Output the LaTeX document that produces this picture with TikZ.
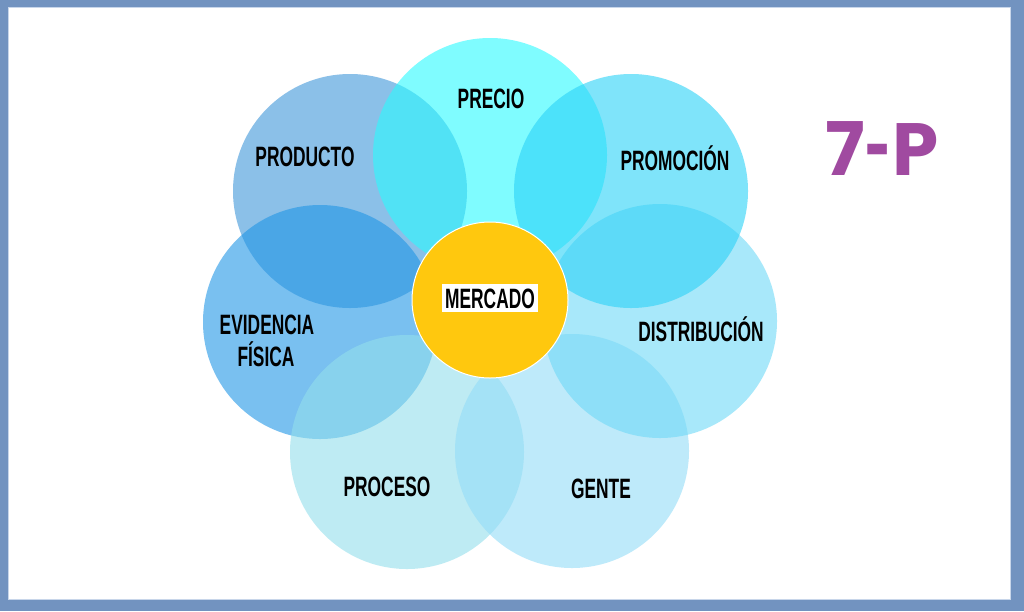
\documentclass[tikz,border=0pt]{standalone}
\usepackage{fontspec}
\usepackage{graphicx}
\setmainfont{Liberation Sans}
\newfontfamily\titlefont{Poppins}
\definecolor{framecol}{RGB}{114,147,192}
\definecolor{framelight}{RGB}{200,214,234}
\definecolor{cProducto}{RGB}{63,150,217}
\definecolor{cPrecio}{RGB}{43,250,255}
\definecolor{cPromocion}{RGB}{43,210,247}
\definecolor{cDistribucion}{RGB}{110,217,247}
\definecolor{cGente}{RGB}{147,220,248}
\definecolor{cProceso}{RGB}{147,223,235}
\definecolor{cEvidencia}{RGB}{32,150,230}
\definecolor{cMercado}{RGB}{255,200,14}
\definecolor{cTitle}{RGB}{160,74,160}
\newcommand{\narrowtxt}[1]{\scalebox{0.62}[1]{#1}}
\tikzset{
  petal/.style={circle, minimum size=234pt, inner sep=0pt, draw=none, fill=#1, fill opacity=0.6},
  petallabel/.style={anchor=base, inner sep=0pt, font=\bfseries\fontsize{28}{30}\selectfont, text=black},
}
\begin{document}
\begin{tikzpicture}[x=1pt,y=-1pt]
\fill[framecol] (0,0) rectangle (1024,611);
\fill[framelight] (8,7) rectangle (1011,600);
\fill[white] (9,8) rectangle (1010,599);
\useasboundingbox (0,0) rectangle (1024,611);
% petals (drawing order matters for the overlaps)
\node[petal=cProducto] (producto) at (350,191) {};
\node[petal=cEvidencia] (evidencia) at (320,322) {};
\node[petal=cProceso] (proceso) at (407,452) {};
\node[petal=cGente] (gente) at (572,451) {};
\node[petal=cDistribucion] (distribucion) at (660,321) {};
\node[petal=cPrecio] (precio) at (490,155) {};
\node[petal=cPromocion] (promocion) at (631,191) {};
% centre
\node[circle, minimum size=156pt, inner sep=0pt, fill=cMercado, draw=white, line width=1pt] (mercado) at (490,300) {};
\node[fill=white, inner xsep=3pt, inner ysep=4pt, text height=20pt, text depth=0pt, font=\bfseries\fontsize{28}{30}\selectfont] (mercadolabel) at (490,298) {\narrowtxt{MERCADO}};
% labels
\node[petallabel] (lprecio) at (491,108) {\narrowtxt{PRECIO}};
\node[petallabel] (lproducto) at (305,166) {\narrowtxt{PRODUCTO}};
\node[petallabel] (lpromocion) at (675,170) {\narrowtxt{PROMOCIÓN}};
\node[petallabel] (ldistribucion) at (701,341) {\narrowtxt{DISTRIBUCIÓN}};
\node[petallabel] (levidencia) at (267,334) {\narrowtxt{EVIDENCIA}};
\node[petallabel] (lfisica) at (266,366) {\narrowtxt{FÍSICA}};
\node[petallabel] (lproceso) at (387,496) {\narrowtxt{PROCESO}};
\node[petallabel] (lgente) at (601,498) {\narrowtxt{GENTE}};
% title
\node[anchor=base, inner sep=0pt, text=cTitle, font=\titlefont\bfseries\fontsize{74}{80}\selectfont] (title) at (882,175) {7\kern1pt\scalebox{0.6}[1]{-}\kern1pt P};
\end{tikzpicture}
\end{document}
